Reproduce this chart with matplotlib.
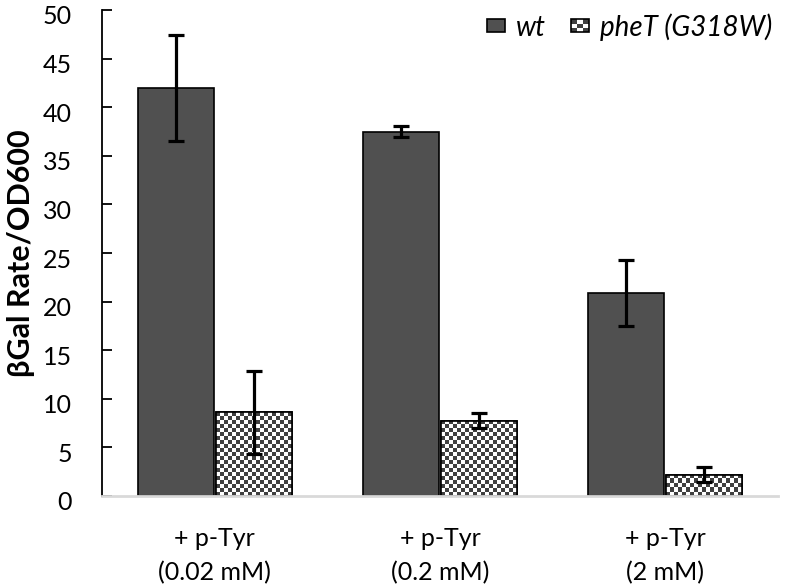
import numpy as np
import matplotlib
matplotlib.use("Agg")
import matplotlib.pyplot as plt
import matplotlib.transforms as mtransforms
from matplotlib.patches import Patch, Rectangle
from matplotlib.legend_handler import HandlerBase

plt.rcParams['font.family'] = ['Lato', 'DejaVu Sans']

groups = ["+ p-Tyr\n(0.02 mM)", "+ p-Tyr\n(0.2 mM)", "+ p-Tyr\n(2 mM)"]
wt = [42.0, 37.5, 20.9]
wt_err = [5.45, 0.55, 3.4]
phet = [8.6, 7.75, 2.2]
phet_err = [4.3, 0.77, 0.78]
yticks = [0, 5, 10, 15, 20, 25, 30, 35, 40, 45, 50]

dark = '#505050'
check_dark = '#404040'


class CheckerHandler(HandlerBase):
    # small checkerboard box for the legend
    def create_artists(self, legend, orig_handle, xdescent, ydescent,
                       width, height, fontsize, trans):
        bw, bh = width, width * 0.72
        x0 = xdescent
        y0 = -ydescent + (height - bh) / 2
        n = 3
        arts = []
        for i in range(n):
            for j in range(n):
                col = check_dark if (i + j) % 2 == 0 else 'white'
                arts.append(Rectangle((x0 + i * bw / n, y0 + j * bh / n),
                                      bw / n, bh / n, facecolor=col,
                                      edgecolor='none', transform=trans))
        arts.append(Rectangle((x0, y0), bw, bh, facecolor='none',
                              edgecolor='black', lw=1.2, transform=trans))
        return arts


class BoxHandler(HandlerBase):
    def create_artists(self, legend, orig_handle, xdescent, ydescent,
                       width, height, fontsize, trans):
        bw, bh = width, width * 0.72
        y0 = -ydescent + (height - bh) / 2
        r = Rectangle((xdescent, y0), bw, bh, facecolor=dark,
                      edgecolor='black', lw=1.2, transform=trans)
        return [r]


fig = plt.figure(figsize=(7.96, 5.88), dpi=100)
ax = fig.add_axes([102 / 796, 92 / 588, 676 / 796, 486 / 588])

x = np.arange(len(groups))
w = 0.337
gap = 0.004

ekw = dict(ecolor='black', elinewidth=2.3, capsize=6, capthick=2.3)
b1 = ax.bar(x - w / 2 - gap, wt, w, color=dark, edgecolor='black', lw=1.2,
            yerr=wt_err, error_kw=ekw, zorder=2)
b2 = ax.bar(x + w / 2 + gap, phet, w, color='white', edgecolor='black', lw=1.2,
            yerr=phet_err, error_kw=ekw, zorder=2)

ax.set_xlim(-0.5, 2.5)
ax.set_ylim(0, 50)

# checkerboard fill, 4 px cells
px_x = 676 / 3.0
px_y = 486 / 50.0
cmap = matplotlib.colors.ListedColormap([check_dark, 'white'])
for bar in b2:
    bx, bw, bh = bar.get_x(), bar.get_width(), bar.get_height()
    nc = max(1, int(round(bw * px_x / 4)))
    nr = max(1, int(round(bh * px_y / 4)))
    ii, jj = np.indices((nr, nc))
    grid = (ii + jj) % 2
    im = ax.imshow(grid, extent=[bx, bx + bw, 0, bh], origin='lower',
                   cmap=cmap, interpolation='nearest', aspect='auto', zorder=2.1)
    im.set_clip_path(bar)
    outline = Rectangle((bx, 0), bw, bh, facecolor='none', edgecolor='black',
                        lw=1.2, zorder=2.2)
    ax.add_patch(outline)

# error bars above the checker image
for cont in [b1.errorbar, b2.errorbar]:
    for art in cont.lines[1]:
        art.set_zorder(3)
    for art in cont.lines[2]:
        art.set_zorder(3)

ax.set_aspect('auto')
ax.set_xlim(-0.5, 2.5)
ax.set_ylim(0, 50)

ax.spines['top'].set_visible(False)
ax.spines['right'].set_visible(False)
ax.spines['left'].set_linewidth(1.3)
ax.spines['bottom'].set_color('#d9d9d9')
ax.spines['bottom'].set_linewidth(2)

ax.set_yticks(yticks)
ax.tick_params(axis='y', direction='in', length=7, width=1.3, labelleft=False)
ax.set_xticks(x)
ax.set_xticklabels(groups, fontsize=18, linespacing=1.6)
ax.tick_params(axis='x', length=0, pad=22)

# y tick labels, sitting slightly below their ticks as in the original
off = mtransforms.ScaledTranslation(-30 / 100, -7 / 100, fig.dpi_scale_trans)
ytr = mtransforms.blended_transform_factory(ax.transAxes, ax.transData) + off
for v in yticks:
    ax.text(0, v, str(v), transform=ytr, ha='right', va='center', fontsize=18)

ax.text(-81 / 676, 0.5, "βGal Rate/OD600", rotation=90, ha='center',
        va='center', fontsize=22, fontweight='bold', transform=ax.transAxes)

h1 = Patch(facecolor=dark, edgecolor='black')
h2 = Patch(facecolor='white', edgecolor='black')
leg = ax.legend([h1, h2], ['wt', 'pheT (G318W)'], ncol=2, frameon=False,
                loc='upper left', bbox_to_anchor=(487 / 796, 1 - 13 / 588),
                bbox_transform=fig.transFigure,
                handler_map={h1: BoxHandler(), h2: CheckerHandler()},
                handlelength=0.65, handleheight=0.7, handletextpad=0.4,
                columnspacing=0.9, borderaxespad=0, borderpad=0,
                prop={'style': 'italic', 'size': 20})

fig.savefig("out.png", dpi=100)
